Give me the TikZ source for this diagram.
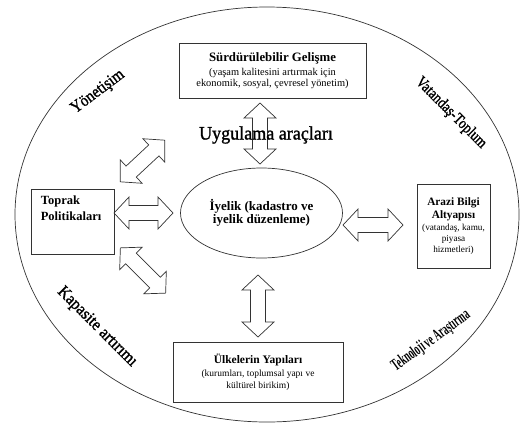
\documentclass[tikz,border=0pt]{standalone}
\usepackage{fontspec}
\setmainfont{Liberation Serif}
\newfontfamily\wafont[FakeBold=1.3]{Liberation Serif}
\usetikzlibrary{calc,shapes.geometric}
\tikzset{
  ln/.style={draw=black!80, line width=0.7pt},
  box/.style={ln, rectangle, inner sep=0pt},
  arr/.style={draw=black!80, line width=0.7pt, line join=miter},
  side/.style={inner sep=0pt, text=black},
}
\newcommand{\dblarr}[3]{%
  \begin{scope}[shift={#1},rotate=#2]
    \pgfmathsetmacro{\hl}{#3/2}
    \draw[arr] (-\hl,0) -- ++(15,16) -- ++(0,-8.5) -- (\hl-15,7.5) -- ++(0,8.5)
      -- (\hl,0) -- ++(-15,-16) -- ++(0,8.5) -- (-\hl+15,-7.5) -- ++(0,-8.5) -- cycle;
  \end{scope}}
\newcommand{\bt}[2]{{\bfseries\fontsize{#1}{#1}\selectfont #2}}
\begin{document}
\begin{tikzpicture}[x=1pt,y=-1pt]
\useasboundingbox (0,0) rectangle (521,423);
% outer ellipse
\node[ln, ellipse, inner sep=0pt, minimum width=504pt, minimum height=415pt] (outer) at (267,214.5) {};
% arrows
\dblarr{(260,133.5)}{90}{61}
\dblarr{(258,306)}{90}{62}
\dblarr{(143.5,213)}{0}{59}
\dblarr{(373,225)}{0}{60}
\dblarr{(142.5,161)}{43}{61}
\dblarr{(143,270.5)}{-45}{64}
% centre ellipse
\node[ln, ellipse, inner sep=0pt, minimum width=162pt, minimum height=90pt, align=center,
      font=\bfseries\fontsize{13}{13.5}\selectfont] (iyelik) at (261.5,213)
  {İyelik (kadastro ve\\ iyelik düzenleme)};
% top box
\node[box, minimum width=187pt, minimum height=55pt, align=center,
      font=\fontsize{10.4}{11}\selectfont] (surd) at (272.5,70.5)
  {\bt{12.8}{Sürdürülebilir Gelişme}\\[3pt]
   (yaşam kalitesini artırmak için\\ ekonomik, sosyal, çevresel yönetim)};
% left box
\node[box, minimum width=83pt, minimum height=65pt] (toprak) at (72.5,221.5) {};
\node[anchor=north west, inner sep=0pt, align=left,
      font=\bfseries\fontsize{12.5}{16}\selectfont] (topraktxt) at ($(toprak.north west)+(10,7)$)
  {Toprak\\ Politikaları};
% right box
\node[box, minimum width=73pt, minimum height=84pt, align=center,
      font=\fontsize{9.2}{11}\selectfont] (arazi) at (453.5,226)
  {\bt{11.3}{Arazi Bilgi}\\[2pt] \bt{11.3}{Altyapısı}\\[1pt]
   (vatandaş, kamu,\\ piyasa\\ hizmetleri)};
% bottom box
\node[box, minimum width=170pt, minimum height=60pt, align=center,
      font=\fontsize{9.5}{12}\selectfont] (ulke) at (258,372)
  {\bt{11.5}{Ülkelerin Yapıları}\\[1pt]
   (kurumları, toplumsal yapı ve\\ kültürel birikim)};
% middle label
\node[side, font=\wafont\fontsize{19}{19}\selectfont] (uyg) at (266,135) {\scalebox{0.95}[1]{Uygulama araçları}};
% rotated labels
\node[side, rotate=37, font=\wafont\fontsize{17}{17}\selectfont] (yon) at (98,92) {\scalebox{0.88}[1]{Yönetişim}};
\node[side, rotate=-45, font=\wafont\fontsize{16}{16}\selectfont] (vat) at (451,113) {\scalebox{0.83}[1]{Vatandaş-Toplum}};
\node[side, rotate=-45, font=\wafont\fontsize{17}{17}\selectfont] (kap) at (97,327) {\scalebox{0.92}[1]{Kapasite artırımı}};
\node[side, rotate=36, font=\bfseries\fontsize{17}{17}\selectfont] (tek) at (431,341) {\scalebox{0.55}[1]{Teknoloji ve Araştırma}};
\end{tikzpicture}
\end{document}
